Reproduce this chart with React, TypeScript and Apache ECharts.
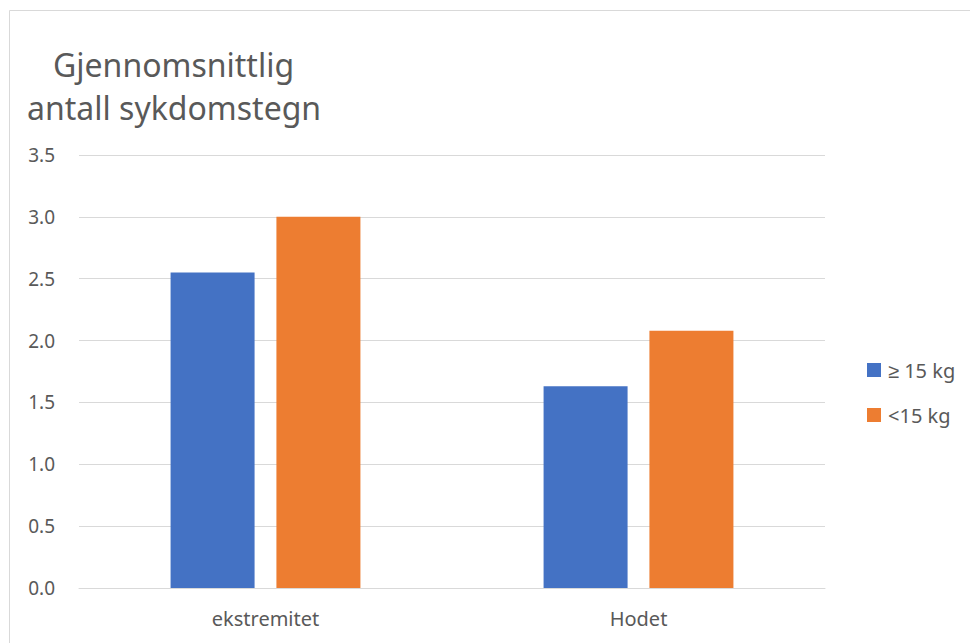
import React, { useEffect, useRef } from "react";
import * as echarts from "echarts";

const categories = ["ekstremitet", "Hodet"];
const seriesNames = ["≥ 15 kg", "<15 kg"];
const heavyValues = [2.55, 1.63];
const lightValues = [3.0, 2.08];
const titleLines = ["Gjennomsnittlig", "antall sykdomstegn"];

const FONT = "'Noto Sans', sans-serif";
const TEXT = "#595959";

export default function App() {
  const ref = useRef<HTMLDivElement>(null);
  useEffect(() => {
    if (!ref.current) return;
    const chart = echarts.init(ref.current, undefined, { renderer: "svg" });
    chart.setOption({
      animation: false,
      backgroundColor: "#ffffff",
      textStyle: { fontFamily: FONT },
      graphic: [
        {
          type: "rect",
          shape: { x: 9.5, y: 10.5, width: 1000, height: 700 },
          style: { fill: "none", stroke: "#d9d9d9", lineWidth: 1 },
          silent: true,
        },
        {
          type: "text",
          x: 53,
          y: 64,
          style: {
            text: titleLines[0],
            fontFamily: FONT,
            fontSize: 32,
            fill: TEXT,
            verticalAlign: "middle",
          },
        },
        {
          type: "text",
          x: 27,
          y: 107,
          style: {
            text: titleLines[1],
            fontFamily: FONT,
            fontSize: 32,
            fill: TEXT,
            verticalAlign: "middle",
          },
        },
      ],
      legend: {
        orient: "vertical",
        left: 862,
        top: 355,
        itemWidth: 14,
        itemHeight: 14,
        itemGap: 25,
        icon: "rect",
        data: seriesNames,
        textStyle: {
          fontFamily: FONT,
          fontSize: 20,
          lineHeight: 20,
          color: TEXT,
          padding: [0, 0, 0, 2],
        },
      },
      grid: { left: 79, right: 145, top: 155, bottom: 55, containLabel: false },
      xAxis: {
        type: "category",
        data: categories,
        axisLine: { lineStyle: { color: "#d9d9d9", width: 1 } },
        axisTick: { show: false },
        axisLabel: {
          fontFamily: FONT,
          fontSize: 20,
          color: TEXT,
          margin: 20,
        },
      },
      yAxis: {
        type: "value",
        min: 0,
        max: 3.5,
        interval: 0.5,
        axisLine: { show: false },
        axisTick: { show: false },
        splitLine: { lineStyle: { color: "#d9d9d9", width: 1 } },
        axisLabel: {
          fontFamily: FONT,
          fontSize: 19,
          color: TEXT,
          margin: 24,
          formatter: (v: number) => v.toFixed(1),
        },
      },
      series: [
        {
          name: seriesNames[0],
          type: "bar",
          data: heavyValues,
          barWidth: 84,
          barGap: "26%",
          itemStyle: { color: "#4472C4" },
        },
        {
          name: seriesNames[1],
          type: "bar",
          data: lightValues,
          barWidth: 84,
          barGap: "26%",
          itemStyle: { color: "#ED7D31" },
        },
      ],
    });
    return () => chart.dispose();
  }, []);
  return (
    <div
      ref={ref}
      style={{ position: "absolute", left: 0, top: 0, width: 970, height: 643 }}
    />
  );
}
